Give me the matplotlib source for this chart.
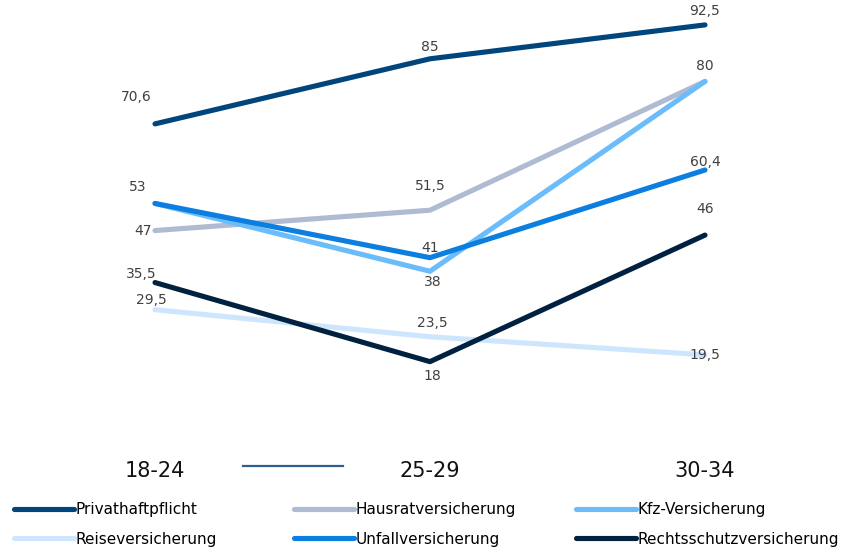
import matplotlib.pyplot as plt
from matplotlib.lines import Line2D

# Data
age_groups = ["18-24", "25-29", "30-34"]
privathaftpflicht = [70.6, 85, 92.5]
hausrat = [47, 51.5, 80]
kfz = [53, 38, 80]
reise = [29.5, 23.5, 19.5]
unfall = [53, 41, 60.4]
rechtsschutz = [35.5, 18, 46]

series = [
    ("Privathaftpflicht", privathaftpflicht, "#00457c"),
    ("Hausratversicherung", hausrat, "#aebbd2"),
    ("Kfz-Versicherung", kfz, "#6bbcfb"),
    ("Reiseversicherung", reise, "#cde6fe"),
    ("Unfallversicherung", unfall, "#0b7ee0"),
    ("Rechtsschutzversicherung", rechtsschutz, "#00213f"),
]

# label offsets in pixels (dx, dy) per series and point
offsets = {
    "Privathaftpflicht": [(-19, 27), (0, 12), (0, 14)],
    "Hausratversicherung": [(-12, 0), (0, 24), (0, 15)],
    "Kfz-Versicherung": [(-17, 16), (3, -11), (0, 15)],
    "Reiseversicherung": [(-4, 10), (2, 14), (0, 0)],
    "Unfallversicherung": [(0, 0), (0, 10), (0, 8)],
    "Rechtsschutzversicherung": [(-14, 9), (2, -14), (0, 26)],
}

def fmt(v):
    s = f"{v:g}"
    return s.replace(".", ",")

fig = plt.figure(figsize=(8.57, 5.49), dpi=100)
W, H = 857, 549
ax = fig.add_axes([17.5 / W, 1 - 443 / H, 825 / W, (443 - 13.6) / H])
ax.set_xlim(-0.5, 2.5)
ax.set_ylim(0, 95)

x = list(range(len(age_groups)))
handles = {}
for name, vals, col in series:
    ln, = ax.plot(x, vals, color=col, lw=3.7, solid_capstyle="round",
                  solid_joinstyle="round", clip_on=False)
    handles[name] = ln

# data labels (shared values 53 and 80 are only written once)
skip = {("Kfz-Versicherung", 2), ("Unfallversicherung", 0)}
for name, vals, col in series:
    for i, v in enumerate(vals):
        if (name, i) in skip:
            continue
        dx, dy = offsets[name][i]
        ax.annotate(fmt(v), (i, v), xytext=(dx, dy), textcoords="offset pixels",
                    ha="center", va="center", fontsize=10, color="#404040")

ax.set_xticks(x)
ax.set_xticklabels(age_groups, fontsize=15, color="#111111")
ax.tick_params(axis="x", length=0, pad=13)
ax.set_yticks([])
for s in ax.spines.values():
    s.set_visible(False)

# stray short line next to the axis labels
fig.add_artist(Line2D([243 / W, 343 / W], [1 - 466 / H, 1 - 466 / H],
                      color="#2e5f8e", lw=1.6))

# legend: three columns, two rows
cols = [
    (["Privathaftpflicht", "Reiseversicherung"], 14),
    (["Hausratversicherung", "Unfallversicherung"], 294),
    (["Kfz-Versicherung", "Rechtsschutzversicherung"], 576),
]
for names, xpx in cols:
    fig.legend([handles[n] for n in names], names,
               loc="upper left", bbox_to_anchor=(xpx / W, 1 - 502 / H),
               frameon=False, fontsize=11, handlelength=3.9,
               handletextpad=0.15, labelspacing=0.95, borderpad=0,
               borderaxespad=0)

fig.savefig("out.png", dpi=100)
